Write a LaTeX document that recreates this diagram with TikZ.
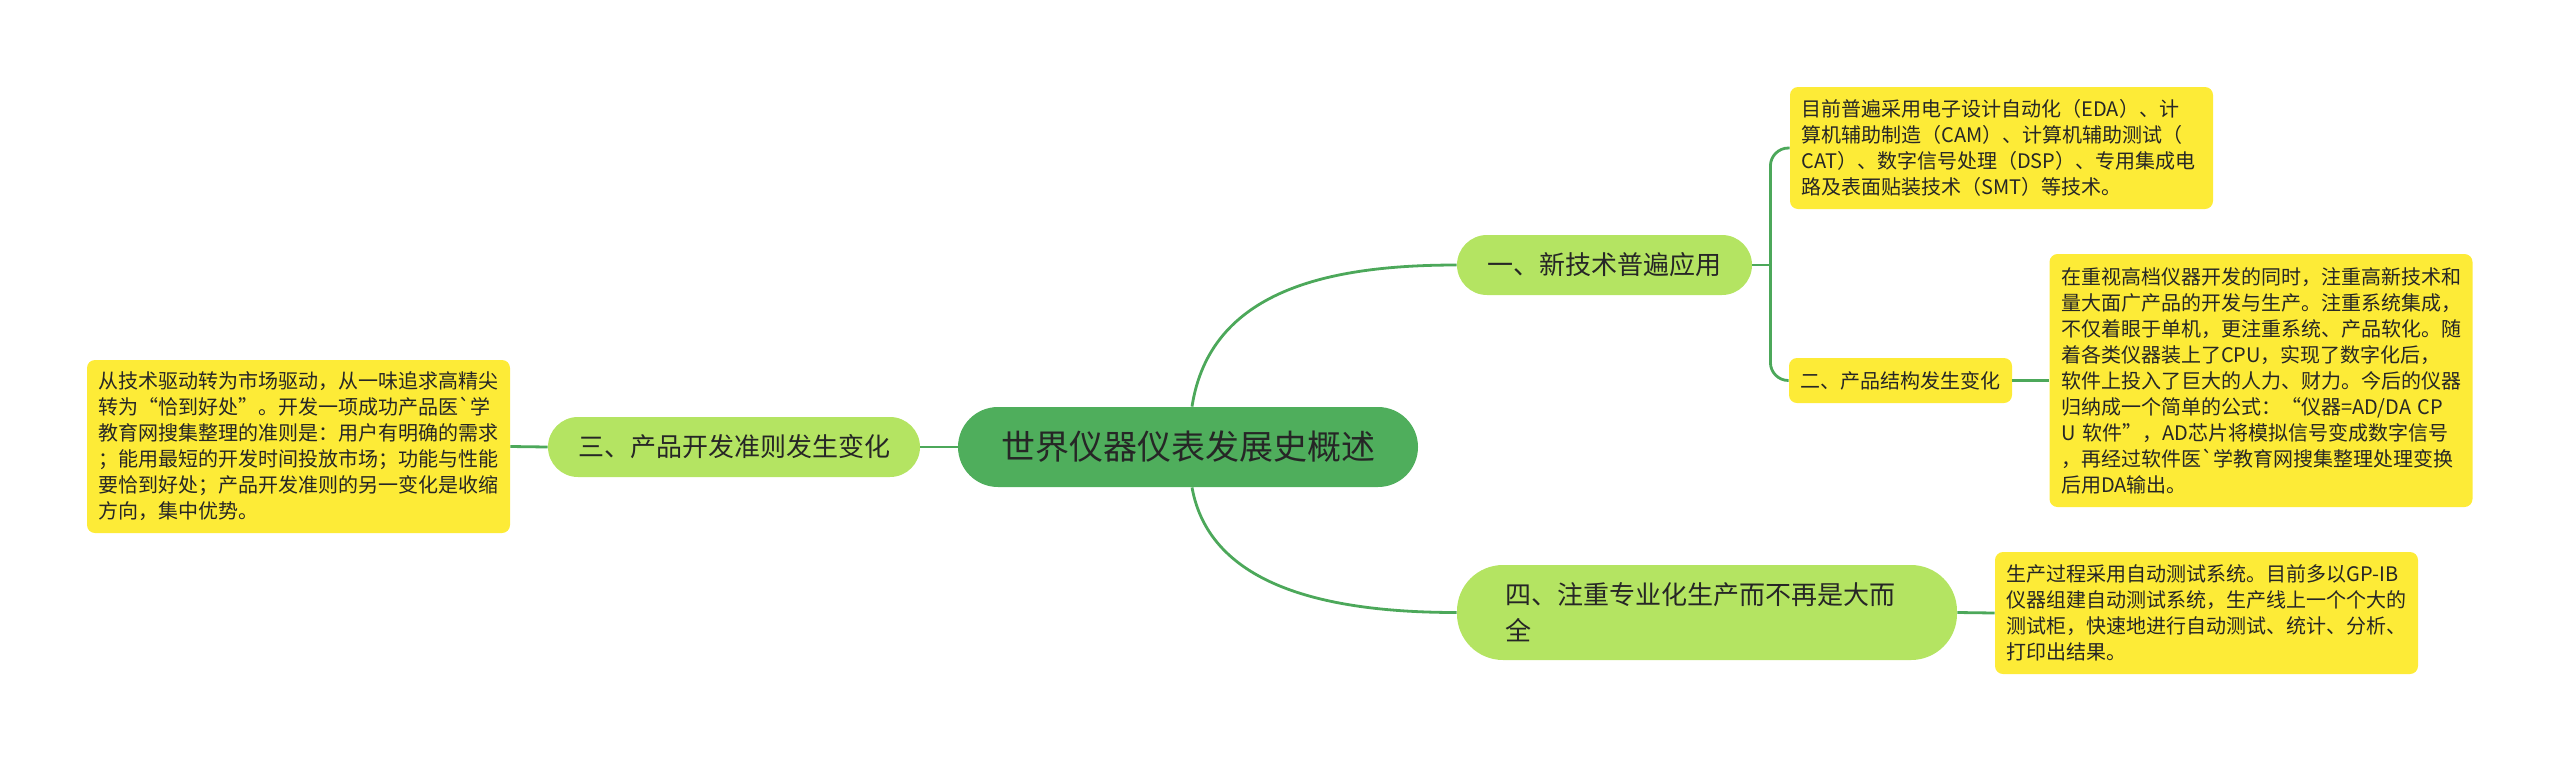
\documentclass[tikz,border=0pt]{standalone}
\usepackage{fontspec}
\setmainfont{Noto Sans CJK SC}
\usepackage{xcolor}
\definecolor{mygreen}{HTML}{4FAE5C}
\definecolor{mylime}{HTML}{B4E462}
\definecolor{myyellow}{HTML}{FDEB37}
\definecolor{mylink}{HTML}{4CA85A}
\colorlet{mytext}{black!85}
\tikzstyle{node root}=[fill=mygreen,text=mytext,rounded corners=20pt,minimum width=230pt,minimum height=40pt,inner sep=0pt,font=\fontsize{17pt}{20pt}\selectfont]
\tikzstyle{node main}=[fill=mylime,text=mytext,rounded corners=15pt,minimum height=30pt,inner sep=0pt,font=\fontsize{13pt}{18pt}\selectfont]
\tikzstyle{node sub}=[fill=myyellow,text=mytext,rounded corners=4pt,minimum width=111.5pt,minimum height=22.5pt,inner sep=0pt,font=\fontsize{10pt}{13pt}\selectfont]
\tikzstyle{node note}=[fill=myyellow,text=mytext,rounded corners=4pt,text width=200pt,inner xsep=5.75pt,inner ysep=0pt,align=left,font=\fontsize{10pt}{13pt}\selectfont]
\tikzstyle{connect}=[line width=1.4pt,mylink]

\begin{document}
\begin{tikzpicture}[x=0.5pt,y=-0.5pt]
    \useasboundingbox (0,0) rectangle (2560,762);

    % DRAW NODES
    \node[node root] (root) at (1188,447) {世界仪器仪表发展史概述};

    \node[node main,minimum width=147.5pt] (M-1) at (1604.5,265) {一、新技术普遍应用};
    \node[node main,minimum width=186pt] (M-3) at (734,447) {三、产品开发准则发生变化};
    \node[node main,minimum width=250pt,minimum height=47.5pt,rounded corners=23pt,
          text width=202pt,align=left,font=\fontsize{13pt}{18pt}\selectfont] (M-4) at (1707,612.5)
          {四、注重专业化生产而不再是大而\\全};

    \node[node sub] (S-2) at (1900.5,380.5) {二、产品结构发生变化};

    \node[node note,minimum height=61pt] (T-1) at (2001.5,148) {%
        目前普遍采用电子设计自动化（EDA）、计\\
        算机辅助制造（CAM）、计算机辅助测试（\\
        CAT）、数字信号处理（DSP）、专用集成电\\
        路及表面贴装技术（SMT）等技术。};
    \node[node note,minimum height=126.5pt] (T-2) at (2261,380.5) {%
        在重视高档仪器开发的同时，注重高新技术和\\
        量大面广产品的开发与生产。注重系统集成，\\
        不仅着眼于单机，更注重系统、产品软化。随\\
        着各类仪器装上了CPU，实现了数字化后，\\
        软件上投入了巨大的人力、财力。今后的仪器\\
        归纳成一个简单的公式：“仪器=AD/DA CP\\
        U 软件”，AD芯片将模拟信号变成数字信号\\
        ，再经过软件医\textasciigrave 学教育网搜集整理处理变换\\
        后用DA输出。};
    \node[node note,minimum height=86.5pt] (T-3) at (298.5,446.5) {%
        从技术驱动转为市场驱动，从一味追求高精尖\\
        转为“恰到好处”。开发一项成功产品医\textasciigrave 学\\
        教育网搜集整理的准则是：用户有明确的需求\\
        ；能用最短的开发时间投放市场；功能与性能\\
        要恰到好处；产品开发准则的另一变化是收缩\\
        方向，集中优势。};
    \node[node note,minimum height=61pt] (T-4) at (2206.5,613) {%
        生产过程采用自动测试系统。目前多以GP-IB\\
        仪器组建自动测试系统，生产线上一个个大的\\
        测试柜，快速地进行自动测试、统计、分析、\\
        打印出结果。};

    % DRAW EDGES
    \draw[connect] ([xshift=2pt]root.north) .. controls +(18,-117) and +(-127,0) .. (M-1.west);
    \draw[connect] ([xshift=2pt]root.south) .. controls +(18,100) and +(-127,0) .. (M-4.west);
    \foreach \a/\b in {root/M-3, M-3/T-3}
        \draw[connect] (\a.west) -- (\b.east);
    \foreach \a/\b in {S-2/T-2, M-4/T-4}
        \draw[connect] (\a.east) -- (\b.west);

    % branch of the first topic
    \draw[connect] (M-1.east) -- ++(18,0) coordinate (J-1);
    \draw[connect,rounded corners=9pt] (J-1) |- (T-1.west);
    \draw[connect,rounded corners=9pt] (J-1) |- (S-2.west);
\end{tikzpicture}
\end{document}
